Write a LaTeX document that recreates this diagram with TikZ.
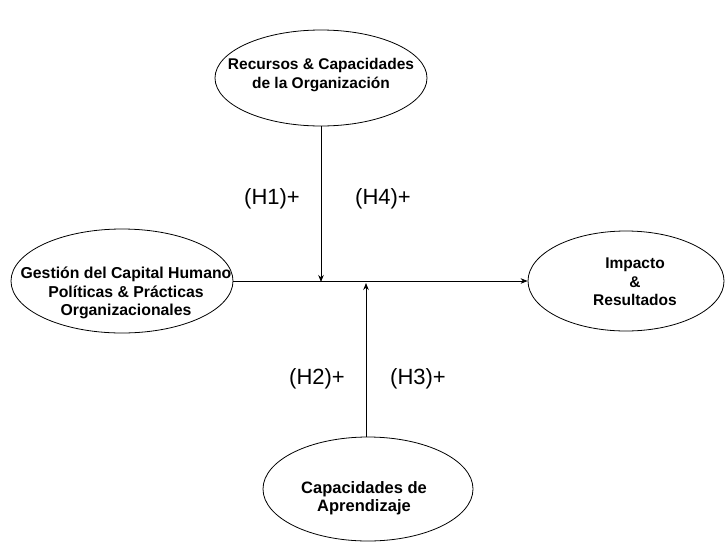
\documentclass[tikz,border=0pt]{standalone}
\usepackage{fontspec}
\setmainfont{Liberation Sans}
\usetikzlibrary{shapes.geometric,arrows.meta}
\begin{document}
\begin{tikzpicture}[x=1pt,y=-1pt,
  construct/.style={draw,ellipse,line width=0.8pt,inner sep=0pt},
  ctext/.style={align=center,font=\fontsize{15.5}{18.5}\selectfont\bfseries,inner sep=0pt},
  hyp/.style={font=\fontsize{22}{24}\selectfont,inner sep=0pt},
  link/.style={line width=0.8pt,-{Stealth[length=7pt,width=5.5pt]}}]
  \useasboundingbox (0,0) rectangle (725,544);

  % constructs
  \node[construct,minimum width=212pt,minimum height=96pt] (rec) at (321,78) {};
  \node[ctext] (rect) at (321,75) {Recursos \& Capacidades\\de la Organizaci\'on};

  \node[construct,minimum width=222pt,minimum height=104pt] (gch) at (122,281) {};
  \node[ctext,font=\fontsize{15.8}{18.5}\selectfont\bfseries] (gcht) at (126,293) {Gesti\'on del Capital Humano\\Pol\'iticas \& Pr\'acticas\\Organizacionales};

  \node[construct,minimum width=196pt,minimum height=100pt] (imp) at (626,281) {};
  \node[ctext] (impt) at (635,282) {Impacto\\\&\\Resultados};

  \node[construct,minimum width=210pt,minimum height=104pt] (apr) at (368,489) {};
  \node[ctext,font=\fontsize{16.5}{18.5}\selectfont\bfseries] (aprt) at (364,498) {Capacidades de\\Aprendizaje};

  % junctions on the main path
  \coordinate (j1) at (321,282);
  \coordinate (j2) at (366,283);

  % connectors
  \draw[link] (gch.east) -- (imp.west);
  \draw[link] (rec.south) -- (j1);
  \draw[link] (j2 |- apr.north) -- (j2);

  % hypothesis labels
  \node[hyp] (h1) at (272,199) {(H1)+};
  \node[hyp] (h4) at (383,199) {(H4)+};
  \node[hyp] (h2) at (317,379) {(H2)+};
  \node[hyp] (h3) at (418,379) {(H3)+};
\end{tikzpicture}
\end{document}
